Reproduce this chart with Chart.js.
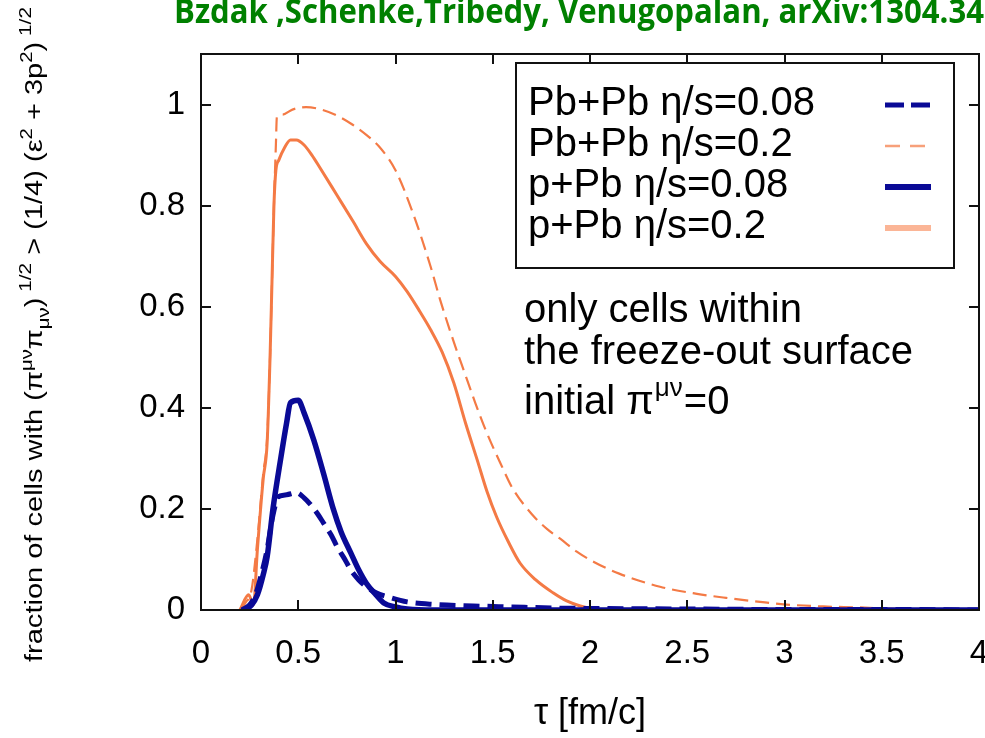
<!DOCTYPE html>
<html>
<head>
<meta charset="utf-8">
<script src="https://cdn.jsdelivr.net/npm/chart.js@4.4.1/dist/chart.umd.min.js"></script>
<style>
  html, body { margin: 0; padding: 0; background: #ffffff; }
  #wrap { width: 985px; height: 738px; position: relative; overflow: hidden; }
</style>
</head>
<body>
<div id="wrap"><canvas id="c" width="985" height="738"></canvas></div>
<script>
// ---------- data ----------
const seriesLabels = ['Pb+Pb η/s=0.08', 'Pb+Pb η/s=0.2', 'p+Pb η/s=0.08', 'p+Pb η/s=0.2'];

const tauPbPb008 = [0.21, 0.25, 0.28, 0.31, 0.34, 0.365, 0.38, 0.39, 0.44, 0.49, 0.53, 0.56, 0.60, 0.63, 0.67, 0.70, 0.74, 0.77, 0.81, 0.85, 0.90, 0.96, 1.06, 1.2, 1.4, 1.6, 1.8, 2.0, 2.5, 3.0, 3.5, 4.0];
const fracPbPb008 = [0.0, 0.01, 0.03, 0.07, 0.12, 0.178, 0.205, 0.222, 0.228, 0.232, 0.222, 0.21, 0.19, 0.172, 0.148, 0.125, 0.10, 0.079, 0.06, 0.046, 0.034, 0.026, 0.016, 0.011, 0.008, 0.006, 0.004, 0.003, 0.002, 0.001, 0.001, 0.0];

const tauPbPb02 = [0.20, 0.23, 0.26, 0.29, 0.32, 0.34, 0.355, 0.365, 0.375, 0.385, 0.39, 0.42, 0.47, 0.54, 0.62, 0.70, 0.78, 0.85, 0.92, 1.00, 1.09, 1.18, 1.23, 1.30, 1.35, 1.41, 1.47, 1.54, 1.60, 1.70, 1.78, 1.85, 1.93, 2.02, 2.15, 2.36, 2.55, 2.70, 2.90, 3.04, 3.20, 3.39, 3.60, 3.80, 4.0];
const fracPbPb02 = [0.0, 0.015, 0.04, 0.14, 0.27, 0.34, 0.50, 0.65, 0.80, 0.92, 0.975, 0.98, 0.99, 0.995, 0.99, 0.978, 0.96, 0.94, 0.915, 0.87, 0.785, 0.68, 0.613, 0.53, 0.475, 0.41, 0.35, 0.29, 0.242, 0.19, 0.16, 0.14, 0.116, 0.095, 0.072, 0.046, 0.032, 0.024, 0.015, 0.01, 0.007, 0.005, 0.002, 0.001, 0.0];

const tauPPb008 = [0.22, 0.26, 0.29, 0.32, 0.34, 0.37, 0.41, 0.44, 0.46, 0.50, 0.53, 0.58, 0.63, 0.68, 0.72, 0.77, 0.81, 0.85, 0.90, 0.94, 1.00, 1.06, 1.2, 1.5, 2.0, 3.0, 4.0];
const fracPPb008 = [0.0, 0.01, 0.03, 0.07, 0.105, 0.20, 0.30, 0.37, 0.41, 0.415, 0.39, 0.336, 0.27, 0.20, 0.155, 0.113, 0.08, 0.053, 0.03, 0.014, 0.006, 0.002, 0.0, 0.0, 0.0, 0.0, 0.0];

const tauPPb02 = [0.20, 0.245, 0.27, 0.29, 0.32, 0.34, 0.355, 0.365, 0.375, 0.385, 0.40, 0.43, 0.46, 0.49, 0.53, 0.57, 0.61, 0.70, 0.78, 0.85, 0.92, 1.00, 1.06, 1.126, 1.18, 1.24, 1.30, 1.36, 1.42, 1.47, 1.52, 1.58, 1.64, 1.72, 1.81, 1.88, 1.95, 2.02, 2.1, 3.0, 4.0];
const fracPPb02 = [0.0, 0.03, 0.01, 0.12, 0.26, 0.33, 0.50, 0.65, 0.80, 0.87, 0.89, 0.915, 0.93, 0.93, 0.92, 0.90, 0.876, 0.82, 0.77, 0.725, 0.69, 0.66, 0.63, 0.59, 0.555, 0.51, 0.449, 0.37, 0.297, 0.235, 0.184, 0.135, 0.093, 0.06, 0.034, 0.018, 0.008, 0.002, 0.0, 0.0, 0.0];

const xTickStep = 0.5;
const yTickStep = 0.2;
const titleText = 'Bzdak ,Schenke,Tribedy, Venugopalan, arXiv:1304.3403';
const noteLines = ['only cells within', 'the freeze-out surface'];
const xTitle = 'τ [fm/c]';

// ---------- styles ----------
const BLUE = '#0a0a96';
const ORANGE = '#f47a45';
const FONT = '"Liberation Sans", Arial, Helvetica, sans-serif';

function zip(xs, ys) { return xs.map((x, i) => ({ x: x, y: ys[i] })); }
function fmtTick(v) { return String(Number(Number(v).toFixed(2))); }

const datasets = [
  { label: seriesLabels[0], data: zip(tauPbPb008, fracPbPb008), borderColor: BLUE, borderWidth: 5, borderDash: [16, 8], order: 0,
    legendColor: BLUE, legendWidth: 5, legendDash: [19, 7] },
  { label: seriesLabels[1], data: zip(tauPbPb02, fracPbPb02), borderColor: ORANGE, borderWidth: 2.2, borderDash: [14, 7], order: 2,
    legendColor: '#f7a07a', legendWidth: 2.5, legendDash: [15, 10] },
  { label: seriesLabels[2], data: zip(tauPPb008, fracPPb008), borderColor: BLUE, borderWidth: 5.5, borderDash: [], order: 1,
    legendColor: BLUE, legendWidth: 6, legendDash: [] },
  { label: seriesLabels[3], data: zip(tauPPb02, fracPPb02), borderColor: ORANGE, borderWidth: 3, borderDash: [], order: 3,
    legendColor: '#fbb596', legendWidth: 6, legendDash: [] }
];
datasets.forEach(d => { d.pointRadius = 0; d.fill = false; d.cubicInterpolationMode = 'monotone'; d.borderCapStyle = 'butt'; });

const CA = { left: 201, right: 979, top: 54, bottom: 610 };

const decor = {
  id: 'decor',
  afterDraw(chart) {
    const ctx = chart.ctx;
    const a = chart.chartArea;
    const xs = chart.scales.x, ys = chart.scales.y;
    ctx.save();
    // frame
    ctx.strokeStyle = '#111';
    ctx.lineWidth = 2;
    ctx.setLineDash([]);
    ctx.strokeRect(a.left, a.top, a.right - a.left, a.bottom - a.top);
    // inward ticks
    const tl = 10;
    ctx.beginPath();
    xs.ticks.forEach(t => {
      const px = Math.round(xs.getPixelForValue(t.value));
      ctx.moveTo(px, a.bottom); ctx.lineTo(px, a.bottom - tl);
      ctx.moveTo(px, a.top); ctx.lineTo(px, a.top + tl);
    });
    ys.ticks.forEach(t => {
      const py = Math.round(ys.getPixelForValue(t.value));
      ctx.moveTo(a.left, py); ctx.lineTo(a.left + tl, py);
      ctx.moveTo(a.right, py); ctx.lineTo(a.right - tl, py);
    });
    ctx.stroke();

    // legend
    const lb = { l: 516, t: 63, r: 954, b: 268 };
    ctx.fillStyle = '#fff';
    ctx.fillRect(lb.l, lb.t, lb.r - lb.l, lb.b - lb.t);
    ctx.strokeStyle = '#111';
    ctx.lineWidth = 2;
    ctx.strokeRect(lb.l, lb.t, lb.r - lb.l, lb.b - lb.t);
    ctx.font = '40px ' + FONT;
    ctx.textBaseline = 'alphabetic';
    ctx.textAlign = 'left';
    const rowBase = [115, 156, 197, 238];
    chart.data.datasets.forEach((d, i) => {
      ctx.fillStyle = '#000';
      ctx.fillText(d.label, 528, rowBase[i]);
      const ly = rowBase[i] - 10;
      ctx.strokeStyle = d.legendColor;
      ctx.lineWidth = d.legendWidth;
      ctx.setLineDash(d.legendDash);
      ctx.beginPath();
      ctx.moveTo(885, ly); ctx.lineTo(931, ly);
      ctx.stroke();
    });
    ctx.setLineDash([]);

    // annotation
    ctx.fillStyle = '#000';
    ctx.font = '40px ' + FONT;
    ctx.fillText(noteLines[0], 524, 322);
    ctx.fillText(noteLines[1], 524, 364);
    let x = 524;
    const l3a = 'initial π';
    ctx.fillText(l3a, x, 414);
    x += ctx.measureText(l3a).width + 1;
    ctx.font = '26px ' + FONT;
    ctx.fillText('μν', x, 396);
    x += ctx.measureText('μν').width + 1;
    ctx.font = '40px ' + FONT;
    ctx.fillText('=0', x, 414);

    // y-axis title (rotated, with super/subscripts)
    const base = 23;
    const pieces = [
      { t: 'fraction of cells with ', s: 1, dy: 0 },
      { t: '(π', s: 1, dy: 0 }, { t: 'μν', s: 0.7, dy: -0.45 },
      { t: 'π', s: 1, dy: 0 }, { t: 'μν', s: 0.7, dy: 0.3 },
      { t: ')', s: 1, dy: 0 }, { t: ' 1/2', s: 0.72, dy: -0.5 },
      { t: ' > (1/4) (ε', s: 1, dy: 0 }, { t: '2', s: 0.7, dy: -0.45 },
      { t: ' + 3p', s: 1, dy: 0 }, { t: '2', s: 0.7, dy: -0.45 },
      { t: ')', s: 1, dy: 0 }, { t: ' 1/2', s: 0.72, dy: -0.5 }
    ];
    let total = 0;
    pieces.forEach(p => { ctx.font = (base * p.s) + 'px ' + FONT; p.w = ctx.measureText(p.t).width; total += p.w; });
    const target = 655;
    const sx = target / total;
    ctx.save();
    ctx.translate(42, 662);
    ctx.rotate(-Math.PI / 2);
    ctx.scale(sx, 1);
    ctx.fillStyle = '#000';
    let cx = 0;
    pieces.forEach(p => {
      ctx.font = (base * p.s) + 'px ' + FONT;
      ctx.fillText(p.t, cx, p.dy * base);
      cx += p.w;
    });
    ctx.restore();

    // green header
    ctx.save();
    ctx.font = 'bold 34px "Open Sans", "Noto Sans", sans-serif';
    const sub = 'Bzdak ,Schenke,Tribedy, Venugopalan, arXiv:1304.34';
    const hs = 810 / ctx.measureText(sub).width;
    ctx.translate(174, 23);
    ctx.scale(hs, 1);
    ctx.fillStyle = '#008000';
    ctx.fillText(titleText, 0, 0);
    ctx.restore();

    ctx.restore();
  }
};

new Chart(document.getElementById('c'), {
  type: 'line',
  data: { datasets: datasets },
  options: {
    responsive: false,
    animation: false,
    devicePixelRatio: 1,
    layout: { padding: { top: CA.top, right: 985 - CA.right, left: 0, bottom: 0 } },
    plugins: { legend: { display: false }, tooltip: { enabled: false }, title: { display: false } },
    scales: {
      x: {
        type: 'linear', min: 0, max: 4,
        grid: { display: false, drawTicks: false },
        border: { display: false },
        ticks: { stepSize: xTickStep, padding: 24, color: '#000', font: { family: FONT, size: 33 }, maxRotation: 0, autoSkip: false,
                 callback: v => fmtTick(v) },
        title: { display: true, text: xTitle, color: '#000', font: { family: FONT, size: 36 }, padding: { top: 0, bottom: 2 } },
        afterFit(s) { s.height = 738 - CA.bottom; s.paddingLeft = 0; s.paddingRight = 0; }
      },
      y: {
        type: 'linear', min: 0, max: 1.1,
        grid: { display: false, drawTicks: false },
        border: { display: false },
        ticks: { stepSize: yTickStep, includeBounds: false, padding: 16, color: '#000', font: { family: FONT, size: 33 },
                 callback: v => fmtTick(v) },
        afterFit(s) { s.width = CA.left; }
      }
    }
  },
  plugins: [decor]
});
</script>
</body>
</html>
